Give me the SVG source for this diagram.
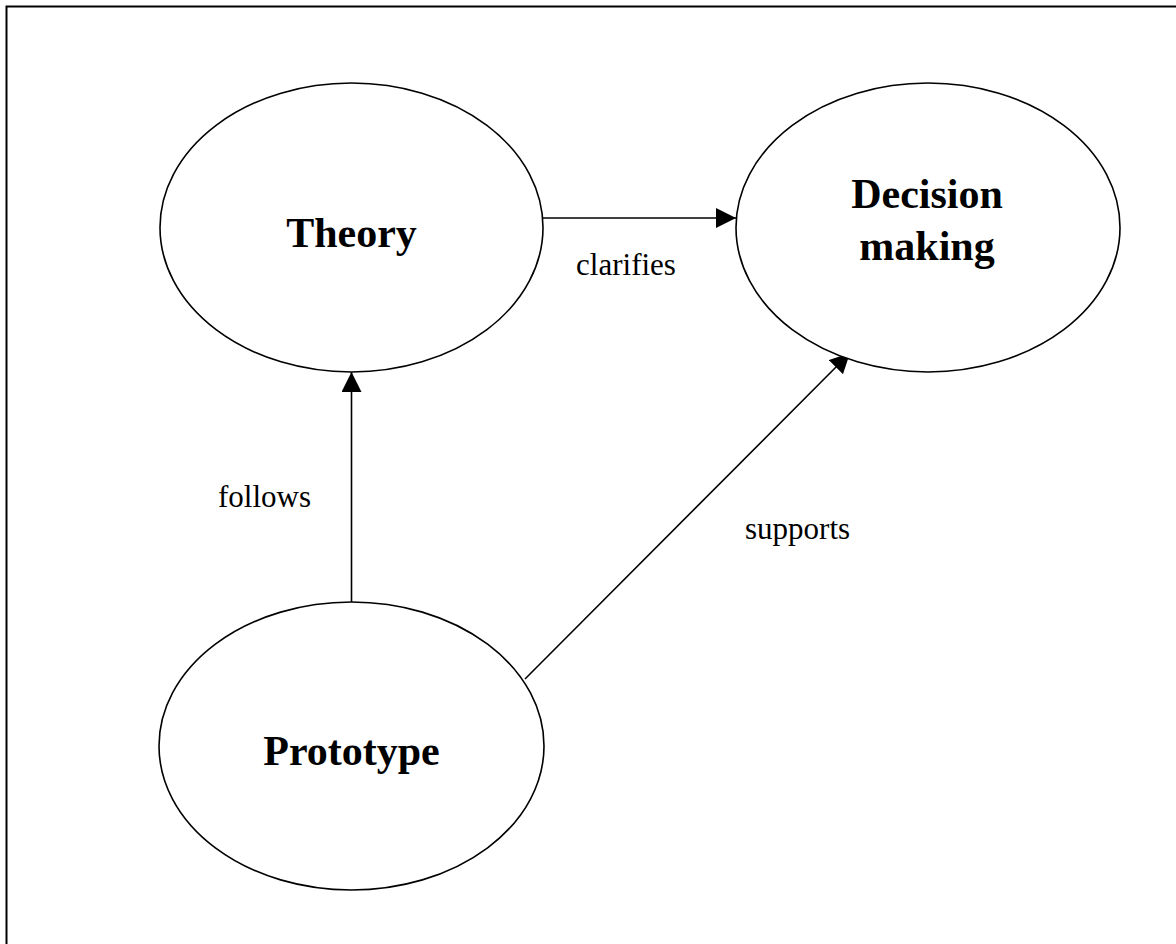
<svg xmlns="http://www.w3.org/2000/svg" width="1176" height="944" viewBox="0 0 1176 944">
  <style>
    .node { fill: #ffffff; stroke: #000000; stroke-width: 1.6; }
    .title { font-family: "Liberation Serif", "Times New Roman", serif; font-weight: bold; font-size: 42px; fill: #000000; text-anchor: middle; }
    .edge { fill: none; stroke: #000000; stroke-width: 1.6; marker-end: url(#arrow); }
    .label { font-family: "Liberation Serif", "Times New Roman", serif; font-size: 31px; fill: #000000; }
    .frame { fill: none; stroke: #000000; stroke-width: 2; }
  </style>
  <defs>
    <marker id="arrow" markerUnits="userSpaceOnUse" markerWidth="20" markerHeight="20" viewBox="0 0 20 20" refX="20" refY="10" orient="auto">
      <path d="M0,0 L20,10 L0,20 Z" fill="#000000"/>
    </marker>
  </defs>

  <rect width="1176" height="944" fill="#ffffff"/>

  <!-- page frame: top and left rules -->
  <path class="frame" d="M6.5,944 L6.5,6.5 L1176,6.5"/>

  <!-- connectors -->
  <g id="connectors">
    <g id="edge-clarifies">
      <line class="edge" x1="543" y1="218" x2="736" y2="218"/>
      <text class="label" x="626" y="275" text-anchor="middle">clarifies</text>
    </g>
    <g id="edge-follows">
      <line class="edge" x1="351.5" y1="602" x2="351.5" y2="372"/>
      <text class="label" x="218" y="507">follows</text>
    </g>
    <g id="edge-supports">
      <line class="edge" x1="525" y1="679" x2="850" y2="353"/>
      <text class="label" x="745" y="539">supports</text>
    </g>
  </g>

  <!-- nodes -->
  <g id="node-theory">
    <ellipse class="node" cx="351.5" cy="227.5" rx="191.5" ry="144.5"/>
    <text class="title" x="351.5" y="247">Theory</text>
  </g>
  <g id="node-decision-making">
    <ellipse class="node" cx="928" cy="227.5" rx="192" ry="144.5"/>
    <text class="title" x="927" y="208">Decision</text>
    <text class="title" x="927" y="260">making</text>
  </g>
  <g id="node-prototype">
    <ellipse class="node" cx="351.5" cy="746" rx="192.5" ry="144"/>
    <text class="title" x="351.5" y="765">Prototype</text>
  </g>
</svg>
